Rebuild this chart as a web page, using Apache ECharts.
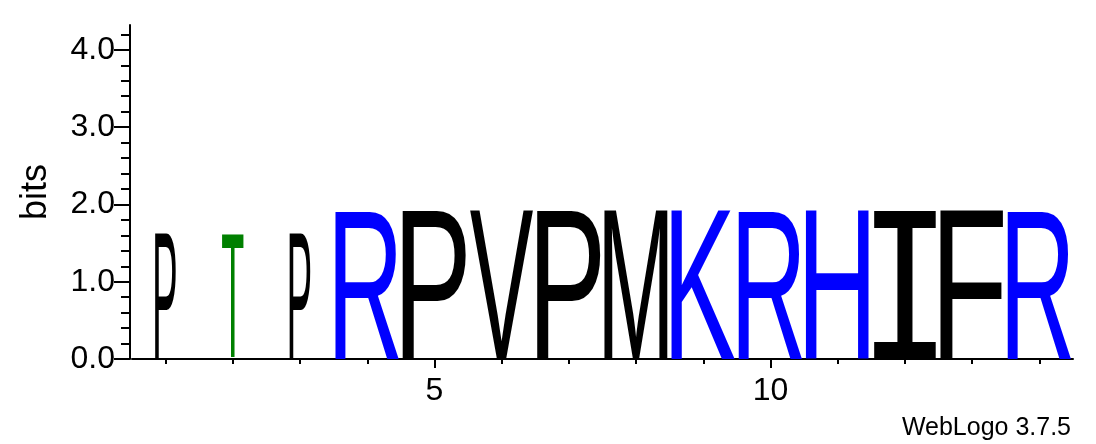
<!DOCTYPE html>
<html><head><meta charset="utf-8">
<script src="https://cdn.jsdelivr.net/npm/echarts@6/dist/echarts.min.js"></script>
<style>html,body{margin:0;padding:0;background:#fff}#c{width:1096px;height:444px}</style>
</head><body><div id="c"></div><script>
// ---- data ----
const positions = [1, 2, 3, 4, 5, 6, 7, 8, 9, 10, 11, 12, 13, 14];
const letters = ['P', 'T', 'P', 'R', 'P', 'V', 'P', 'M', 'K', 'R', 'H', 'I', 'F', 'R'];
const bits = [1.62, 1.62, 1.62, 1.93, 1.93, 1.93, 1.93, 1.93, 1.93, 1.93, 1.93, 1.92, 1.93, 1.93];
const stackWidths = [0.31, 0.32, 0.31, 0.95, 0.95, 0.95, 0.95, 0.95, 0.95, 0.95, 0.95, 0.95, 0.95, 0.95];
const yMajorTicks = [0, 1, 2, 3, 4];
const yMinorTicks = [0, 0.2, 0.4, 0.6, 0.8, 1, 1.2, 1.4, 1.6, 1.8, 2, 2.2, 2.4, 2.6, 2.8, 3, 3.2, 3.4, 3.6, 3.8, 4, 4.2];
const xMajorTicks = [5, 10];
const xMinorTicks = [1, 2, 3, 4, 5, 6, 7, 8, 9, 10, 11, 12, 13, 14];
const yMax = 4.3219;

const letterColors = { R: '#0000ff', K: '#0000ff', H: '#0000ff', T: '#008000', P: '#000000', V: '#000000', M: '#000000', I: '#000000', F: '#000000' };

const measureCtx = document.createElement('canvas').getContext('2d');
function fontFor(ch) {
  return ch === 'I'
    ? { family: '"DejaVu Sans Mono"', weight: 'normal', size: 100 }
    : { family: '"Liberation Sans"', weight: 'normal', size: 100 };
}
function inkBox(ch, f) {
  measureCtx.font = f.weight + ' ' + f.size + 'px ' + f.family;
  measureCtx.textBaseline = 'middle';
  measureCtx.textAlign = 'left';
  const m = measureCtx.measureText(ch);
  return { L: m.actualBoundingBoxLeft, R: m.actualBoundingBoxRight, A: m.actualBoundingBoxAscent, D: m.actualBoundingBoxDescent };
}

const data = positions.map((p, i) => [p, bits[i], stackWidths[i]]);

const chart = echarts.init(document.getElementById('c'), null, { renderer: 'canvas' });
const axisColor = '#000';
chart.setOption({
  backgroundColor: '#fff',
  animation: false,
  grid: { left: 132, right: 23, top: 25, bottom: 85 },
  xAxis: [{
    type: 'value', min: 0.5, max: 14.5, position: 'bottom', offset: 1,
    axisLine: { show: true, lineStyle: { color: axisColor, width: 2 } },
    axisTick: { show: true, customValues: xMajorTicks, length: 9, lineStyle: { color: axisColor, width: 2 } },
    axisLabel: { show: true, customValues: xMajorTicks, color: '#000', fontSize: 32, fontFamily: '"Liberation Sans"', margin: 15 },
    splitLine: { show: false }
  }, {
    type: 'value', min: 0.5, max: 14.5, position: 'bottom', offset: 1,
    axisLine: { show: false },
    axisTick: { show: true, customValues: xMinorTicks, length: 5, lineStyle: { color: axisColor, width: 2 } },
    axisLabel: { show: false },
    splitLine: { show: false }
  }],
  yAxis: [{
    type: 'value', min: 0, max: yMax, position: 'left', offset: 2,
    name: 'bits', nameLocation: 'middle', nameRotate: 90, nameGap: 76,
    nameTextStyle: { color: '#000', fontSize: 36, fontFamily: '"Liberation Sans"' },
    axisLine: { show: true, lineStyle: { color: axisColor, width: 2 } },
    axisTick: { show: true, customValues: yMajorTicks, length: 16, lineStyle: { color: axisColor, width: 2 } },
    axisLabel: { show: true, customValues: yMajorTicks, color: '#000', fontSize: 32, fontFamily: '"Liberation Sans"', margin: 15,
      formatter: v => Number(v).toFixed(1) },
    splitLine: { show: false }
  }, {
    type: 'value', min: 0, max: yMax, position: 'left', offset: 2,
    axisLine: { show: false },
    axisTick: { show: true, customValues: yMinorTicks, length: 9, lineStyle: { color: axisColor, width: 2 } },
    axisLabel: { show: false },
    splitLine: { show: false }
  }],
  graphic: [{
    type: 'text', right: 25, top: 416,
    style: { text: 'WebLogo 3.7.5', fill: '#000', fontSize: 25, fontFamily: '"Liberation Sans"' }
  }],
  series: [{
    type: 'custom',
    xAxisIndex: 0, yAxisIndex: 0,
    data: data,
    encode: { x: 0, y: 1 },
    renderItem: function (params, api) {
      const pos = api.value(0), h = api.value(1), w = api.value(2);
      const ch = letters[params.dataIndex];
      const f = fontFor(ch);
      const tl = api.coord([pos - w / 2, h]);
      const br = api.coord([pos + w / 2, 0]);
      const b = inkBox(ch, f);
      const sx = (br[0] - tl[0]) / (b.L + b.R);
      const sy = (br[1] - tl[1]) / (b.A + b.D);
      return {
        type: 'text',
        x: tl[0] + b.L * sx,
        y: tl[1] + b.A * sy,
        scaleX: sx, scaleY: sy,
        style: {
          text: ch, x: 0, y: 0,
          fill: letterColors[ch] || '#000',
          fontSize: f.size, fontFamily: f.family, fontWeight: f.weight,
          align: 'left', verticalAlign: 'middle'
        }
      };
    }
  }]
});
</script></body></html>
